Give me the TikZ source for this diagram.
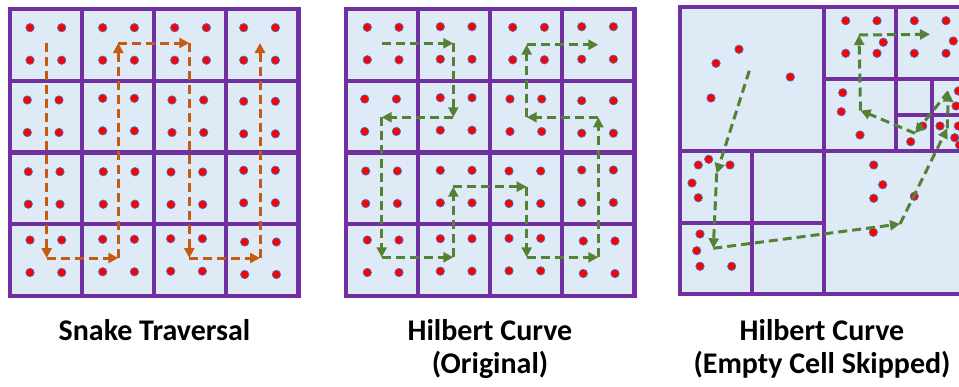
\documentclass[tikz,border=0pt]{standalone}
\usepackage{fontspec}
\setmainfont{Carlito}
\usetikzlibrary{arrows.meta}
\definecolor{gridpurple}{HTML}{7030A0}
\definecolor{cellblue}{HTML}{DEEBF7}
\definecolor{dotred}{HTML}{FF0000}
\definecolor{dotrim}{HTML}{4472C4}
\definecolor{snakeorange}{HTML}{C55A11}
\definecolor{hilbertgreen}{HTML}{548235}

\begin{document}
\begin{tikzpicture}[
  x=1pt, y=-1pt,
  grid/.style={gridpurple, line width=4.2pt},
  cell/.style={fill=cellblue},
  pt/.style={fill=dotred, draw=dotrim, line width=0.7pt},
  trav/.style={#1, dash pattern=on 9pt off 5pt, line width=3pt, -{Triangle[length=10pt,width=10pt]}},
  caption/.style={font=\fontsize{30}{33}\selectfont\bfseries, anchor=base, inner sep=0}
]
  \useasboundingbox (0,0) rectangle (959,386);
  \clip (0,0) rectangle (959,386);

  % Regular 4x4 grids
  \foreach \ox in {10,346} {
    \fill[cell] (\ox,9) rectangle ++(288.5,287);
    \foreach \k in {1,2,3} {
      \draw[grid] (\ox+\k*72.125,9) -- ++(0,287);
      \draw[grid] (\ox,9+\k*71.75) -- ++(288.5,0);
    }
    \draw[grid] (\ox,9) rectangle ++(288.5,287);
  }

  % Points, four per cell
  \foreach \x/\y in {30/27.7, 102.7/27.7, 174.7/27.7, 243.7/27.7,
                     27.3/100, 102.7/98.3, 172/100, 243.7/101.3,
                     28.3/171.7, 103.3/171.7, 171/172, 243.7/170.3,
                     30/240, 102.7/239.3, 170.7/238.7, 244.7/242,
                     367.3/27.3, 440.3/26.7, 512.7/27.3, 581.7/26.7,
                     364.7/99, 440.3/97.7, 510/99, 581.7/100.7,
                     365.7/171, 440.3/170.3, 509/171, 581.7/170,
                     367.3/240, 440.3/238.7, 509/238.3, 583.3/241} {
    \foreach \dx/\dy in {0/0, 31.7/0, 0/32.5, 31.7/32.5}
      \draw[pt] (\x+\dx,\y+\dy) circle[radius=4.2pt];
  }

  % Adaptive grid
  \fill[cell] (680,7) rectangle (967.5,294);
  \draw[grid] (823.75,7) -- (823.75,294);
  \draw[grid] (680,150.75) -- (967.5,150.75);
  \draw[grid] (751.9,150.75) -- (751.9,294);
  \draw[grid] (680,222.6) -- (823.75,222.6);
  \draw[grid] (895.6,7) -- (895.6,150.75);
  \draw[grid] (823.75,78.9) -- (967.5,78.9);
  \draw[grid] (931.8,78.9) -- (931.8,150.75);
  \draw[grid] (895.6,115) -- (967.5,115);
  \draw[grid] (680,7) rectangle (967.5,294);

  \foreach \x/\y in {739/49.3, 716/63.3, 790.3/77, 711/98,
                     708.7/159.3, 698.3/165, 730/165, 692/183, 698.3/197.7,
                     700/234, 696.7/250.7, 700/266.3, 731.7/266.3,
                     845.7/20.7, 877/20.7, 883.3/42.3, 845.7/53.3, 877/53.3,
                     914.3/20.7, 946/20.7, 953.3/41, 914.3/53.3, 946/53.3,
                     842.7/92.7, 841.3/111.7, 860/135,
                     922.7/126, 910.7/141.7, 958.3/91, 956/106,
                     940/126, 954.7/137.7, 958.3/126, 959.5/145,
                     873.7/165, 882.7/184.7, 873.7/198.3, 914.3/196.3, 873.3/232.3}
    \draw[pt] (\x,\y) circle[radius=4.2pt];

  % Snake traversal
  \coordinate (s1) at (46.7,43);
  \coordinate (s2) at (46.7,258);
  \coordinate (s3) at (118.3,258);
  \coordinate (s4) at (118.3,43);
  \coordinate (s5) at (189.3,43);
  \coordinate (s6) at (189.3,258);
  \coordinate (s7) at (260,258);
  \coordinate (s8) at (260,43);
  \foreach \a/\b in {s1/s2, s2/s3, s3/s4, s4/s5, s5/s6, s6/s7, s7/s8}
    \draw[trav=snakeorange] (\a) -- (\b);

  % Hilbert curve
  \coordinate (h1) at (381.7,43.3);
  \coordinate (h2) at (453.3,43.3);
  \coordinate (h3) at (453.3,117.3);
  \coordinate (h4) at (381.7,117.3);
  \coordinate (h5) at (381.7,257.3);
  \coordinate (h6) at (453.3,257.3);
  \coordinate (h7) at (453.3,186.7);
  \coordinate (h8) at (526.7,186.7);
  \coordinate (h9) at (526.7,257.3);
  \coordinate (h10) at (598.3,257.3);
  \coordinate (h11) at (598.3,117.3);
  \coordinate (h12) at (526.7,117.3);
  \coordinate (h13) at (526.7,44.7);
  \coordinate (h14) at (598.3,44.7);
  \foreach \a/\b in {h1/h2, h2/h3, h3/h4, h4/h5, h5/h6, h6/h7, h7/h8,
                     h8/h9, h9/h10, h10/h11, h11/h12, h12/h13, h13/h14}
    \draw[trav=hilbertgreen] (\a) -- (\b);

  % Hilbert curve, empty cells skipped
  \coordinate (e1) at (749.3,70.7);
  \coordinate (e2) at (716.7,173.3);
  \coordinate (e3) at (713.3,248.3);
  \coordinate (e4) at (900,224);
  \coordinate (e5) at (947.3,128.3);
  \coordinate (e6) at (948.3,91.7);
  \coordinate (e7) at (915,133.3);
  \coordinate (e8) at (860.5,110.5);
  \coordinate (e9) at (859,35);
  \coordinate (e10) at (930,34.3);
  \foreach \a/\b in {e1/e2, e2/e3, e3/e4, e4/e5, e5/e6, e6/e7, e7/e8,
                     e8/e9, e9/e10}
    \draw[trav=hilbertgreen] (\a) -- (\b);

  % Captions
  \node[caption] (cap1) at (154.5,340) {Snake Traversal};
  \node[caption] (cap2) at (490,340) {Hilbert Curve};
  \node[caption] (cap2b) at (490,373) {(Original)};
  \node[caption] (cap3) at (822,340) {Hilbert Curve};
  \node[caption] (cap3b) at (822,373) {(Empty Cell Skipped)};
\end{tikzpicture}
\end{document}
